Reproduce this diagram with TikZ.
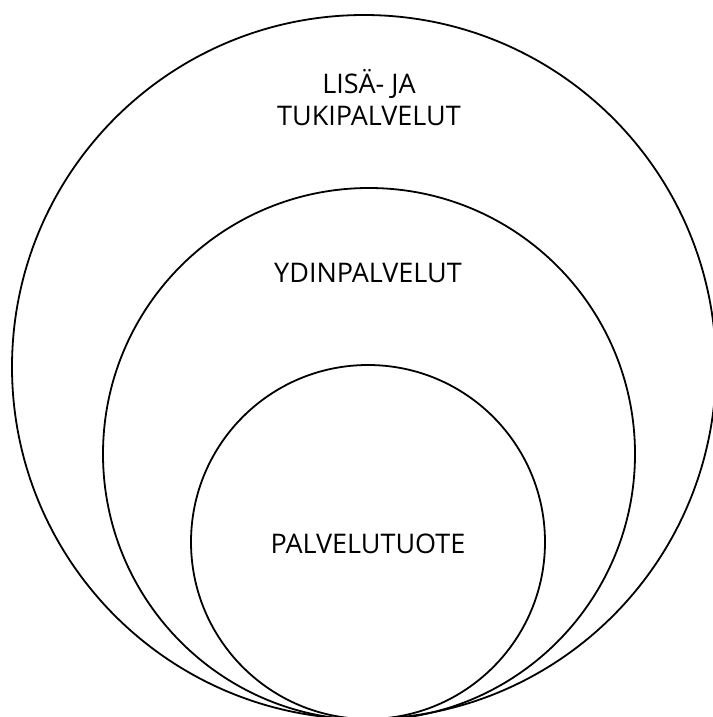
\documentclass[tikz,border=0pt]{standalone}
\usepackage{fontspec}
\setmainfont{Open Sans}
\begin{document}
\begin{tikzpicture}[x=1pt,y=-1pt,
  ring/.style={draw=black,line width=1.8pt,circle,inner sep=0pt},
  lbl/.style={font=\fontsize{27}{32}\selectfont,anchor=base,inner sep=0pt,text=black}]
\useasboundingbox[fill=white] (0,0) rectangle (712,717);
\node[ring,minimum size=704pt] (outer) at (364,367) {};
\node[ring,minimum size=532pt] (middle) at (369,454) {};
\node[ring,minimum size=354pt] (inner) at (368,542) {};
\node[lbl] (l1) at (369,93) {LISÄ- JA};
\node[lbl] (l2) at (369,125) {TUKIPALVELUT};
\node[lbl] (l3) at (368,282) {YDINPALVELUT};
\node[lbl] (l4) at (368,553) {PALVELUTUOTE};
\end{tikzpicture}
\end{document}
